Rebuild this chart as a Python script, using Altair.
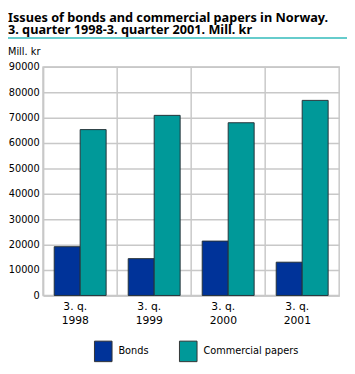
import altair as alt
import pandas as pd

periods = ["3. q. 1998", "3. q. 1999", "3. q. 2000", "3. q. 2001"]
series = ["Bonds", "Commercial papers"]
bonds = [19200, 14500, 21400, 13100]
commercial = [65300, 70900, 68000, 76800]
y_ticks = [0, 10000, 20000, 30000, 40000, 50000, 60000, 70000, 80000, 90000]
title_lines = ["Issues of bonds and commercial papers in Norway.",
               "3. quarter 1998-3. quarter 2001. Mill. kr"]
unit_label = "Mill. kr"
colors = ["#003399", "#009999"]

rows = []
for p, b, c in zip(periods, bonds, commercial):
    rows.append({"period": p, "series": series[0], "value": b})
    rows.append({"period": p, "series": series[1], "value": c})
df = pd.DataFrame(rows)
period_df = pd.DataFrame({"period": periods})
one = pd.DataFrame({"k": [0]})

W, H = 303, 234
LEFT = 36
GRID = "#c8c8c8"
FONT = "DejaVu Sans"

x_scale = alt.Scale(domain=periods, paddingInner=0, paddingOuter=0)
x_axis = alt.Axis(title=None, labelAngle=0, ticks=False, grid=False,
                  domainColor=GRID, domainWidth=1.5,
                  labelExpr="[slice(datum.label,0,5), slice(datum.label,6)]",
                  labelFont=FONT, labelFontSize=11, labelColor="black",
                  labelPadding=5, labelLineHeight=14.5, labelOffset=-5,
                  labelOverlap=False)

vrules = alt.Chart(period_df).mark_rule(color=GRID, strokeWidth=1.5).encode(
    x=alt.X("period:N", bandPosition=0, scale=x_scale, sort=periods, axis=x_axis),
    y=alt.value(0),
    y2=alt.value(H),
)

bars = alt.Chart(df).mark_bar(stroke="#263238", strokeWidth=1).encode(
    x=alt.X("period:N", scale=x_scale, sort=periods, axis=x_axis),
    xOffset=alt.XOffset("series:N", sort=series,
                        scale=alt.Scale(domain=series, paddingInner=0, paddingOuter=0.425)),
    y=alt.Y("value:Q", scale=alt.Scale(domain=[0, 90000], nice=False),
            axis=alt.Axis(title=None, values=y_ticks, ticks=False, grid=True,
                          gridColor=GRID, gridWidth=1.5, domainColor=GRID, domainWidth=1.5,
                          labelFont=FONT, labelFontSize=10, labelColor="black",
                          labelPadding=4, format="d")),
    color=alt.Color("series:N", sort=series,
                    scale=alt.Scale(domain=series, range=colors),
                    legend=alt.Legend(title=None, orient="none", legendX=50.5, legendY=280,
                                      direction="horizontal",
                                      symbolType="M-0.857,-1H0.857V1H-0.857Z",
                                      symbolSize=441, symbolStrokeColor="#333333",
                                      symbolStrokeWidth=1, symbolOpacity=1,
                                      labelFont=FONT, labelFontSize=10, labelColor="black",
                                      labelOffset=4.5, columnPadding=29)),
)

title1 = alt.Chart(one).mark_text(text=title_lines[0], align="left", baseline="alphabetic",
                                  font="Noto Sans", fontWeight="bold", fontSize=13,
                                  color="black").encode(
    x=alt.value(-LEFT), y=alt.value(-46))

title2 = alt.Chart(one).mark_text(text=title_lines[1], align="left", baseline="alphabetic",
                                  font="Noto Sans", fontWeight="bold", fontSize=13,
                                  color="black").encode(
    x=alt.value(-LEFT), y=alt.value(-33.5))

unit = alt.Chart(one).mark_text(text=unit_label, align="left", baseline="alphabetic",
                                font=FONT, fontSize=10, color="black").encode(
    x=alt.value(-LEFT), y=alt.value(-12))

line = alt.Chart(one).mark_rule(color="#66cccc", strokeWidth=2).encode(
    x=alt.value(-LEFT), x2=alt.value(W + 8), y=alt.value(-29.5))

chart = alt.layer(vrules, bars, title1, title2, unit, line).properties(
    width=W, height=H,
    padding={"left": LEFT, "top": 56, "right": 8, "bottom": 70},
    autosize=alt.AutoSizeParams(type="none"),
).configure_view(stroke=GRID, strokeWidth=1.5)

chart.save("out.html", embed_options={"renderer": "svg", "actions": False})
